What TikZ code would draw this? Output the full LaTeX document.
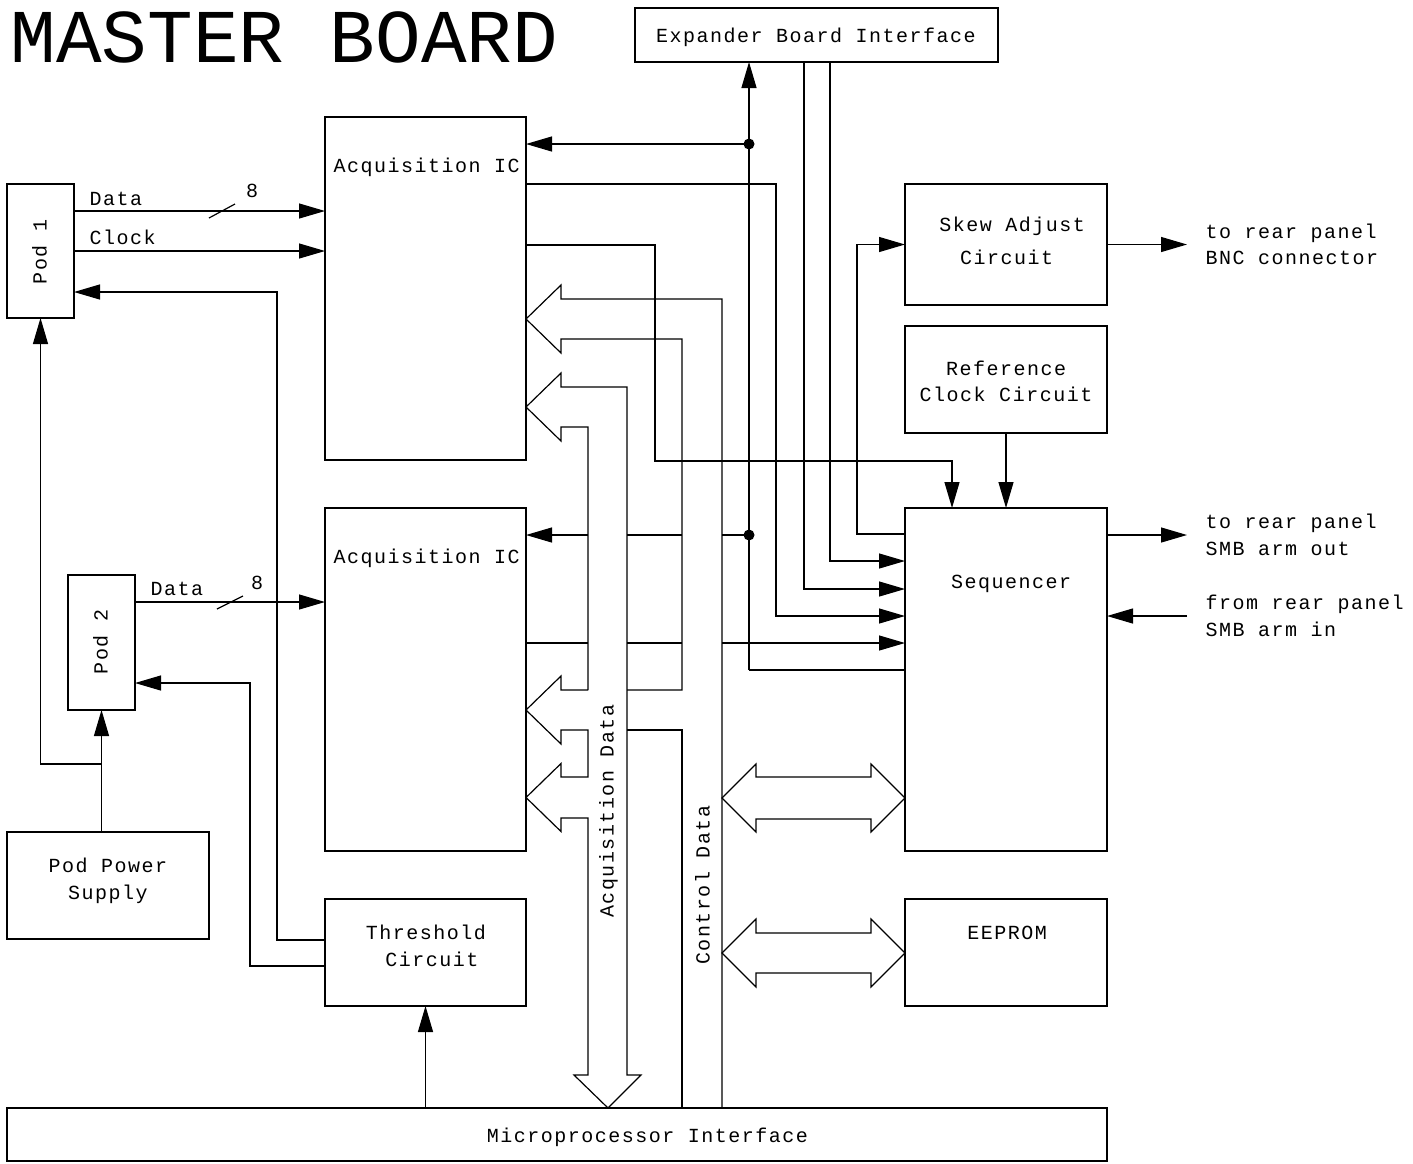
\documentclass[tikz,border=0pt]{standalone}
\usepackage{fontspec}
\setmainfont{Liberation Mono}
\newfontfamily\lblfont[LetterSpace=7.5]{Liberation Mono}
\newfontfamily\ttlfont{Liberation Mono}
\usetikzlibrary{arrows.meta}
\begin{document}
\begin{tikzpicture}[x=1pt,y=-1pt,line width=1.2pt,
  box/.style={draw,inner sep=0pt,outer sep=0pt},
  txt/.style={font={\lblfont\fontsize{20}{24}\selectfont},inner sep=0pt,anchor=base},
  ltxt/.style={txt,anchor=base west},
  vtxt/.style={txt,rotate=90},
  arr/.style={-{Triangle[length=26pt,width=15pt]}}]
\useasboundingbox (0,0) rectangle (1413,1163);

% boxes
\node[box,minimum width=363,minimum height=54] (exp) at (816.5,35) {};
\node[box,minimum width=201,minimum height=343] (ic1) at (425.5,288.5) {};
\node[box,minimum width=201,minimum height=343] (ic2) at (425.5,679.5) {};
\node[box,minimum width=67,minimum height=134] (pod1) at (40.5,251) {};
\node[box,minimum width=67,minimum height=135] (pod2) at (101.5,642.5) {};
\node[box,minimum width=202,minimum height=107] (pps) at (108,885.5) {};
\node[box,minimum width=201,minimum height=107] (thr) at (425.5,952.5) {};
\node[box,minimum width=1100,minimum height=53] (mpi) at (557,1134.5) {};
\node[box,minimum width=202,minimum height=121] (skew) at (1006,244.5) {};
\node[box,minimum width=202,minimum height=107] (ref) at (1006,379.5) {};
\node[box,minimum width=202,minimum height=343] (seq) at (1006,679.5) {};
\node[box,minimum width=202,minimum height=107] (eep) at (1006,952.5) {};

% texts
\node[font={\ttlfont\fontsize{76}{80}\selectfont},inner sep=0pt,anchor=base west] (title) at (10,62) {MASTER BOARD};
\node[txt] (texp) at (816,42.5) {Expander Board Interface};
\node[ltxt] (tic1) at (333,172) {Acquisition IC};
\node[ltxt] (tic2) at (333,563) {Acquisition IC};
\node[vtxt] (tpod1) at (46.5,252) {Pod 1};
\node[vtxt] (tpod2) at (107.5,642) {Pod 2};
\node[txt] (tpps1) at (108,872.5) {Pod Power};
\node[txt] (tpps2) at (108,899.5) {Supply};
\node[txt] (tthr1) at (426,939.5) {Threshold};
\node[txt] (tthr2) at (432,966.5) {Circuit};
\node[txt] (tskew1) at (1012,231.5) {Skew Adjust};
\node[txt] (tskew2) at (1006.5,264.5) {Circuit};
\node[txt] (tref1) at (1006,375) {Reference};
\node[txt] (tref2) at (1006,401) {Clock Circuit};
\node[txt] (tseq) at (1011,588.5) {Sequencer};
\node[txt] (teep) at (1007,939.5) {EEPROM};
\node[txt] (tmpi) at (647.5,1142.5) {Microprocessor Interface};
\node[ltxt] (to1a) at (1205,238.5) {to rear panel};
\node[ltxt] (to1b) at (1205,264.5) {BNC connector};
\node[ltxt] (to2a) at (1205,528.5) {to rear panel};
\node[ltxt] (to2b) at (1205,555.5) {SMB arm out};
\node[ltxt] (ti3a) at (1205,609.5) {from rear panel};
\node[ltxt] (ti3b) at (1205,636.5) {SMB arm in};
\node[ltxt] (td1) at (89,205.5) {Data};
\node[ltxt] (tc1) at (89,244.5) {Clock};
\node[ltxt] (td2) at (150,595.5) {Data};
\node[txt] (t8a) at (252,197.5) {8};
\node[txt] (t8b) at (257,589.5) {8};
\node[vtxt] (tacq) at (613.5,811) {Acquisition Data};
\node[vtxt] (tctl) at (709.5,885) {Control Data};

% coordinates
\coordinate (dA) at (749,144);
\coordinate (dB) at (749,535);
\coordinate (cBot) at (749,670);
\coordinate (o1) at (1187,244.5);
\coordinate (o2) at (1187,535);
\coordinate (i3) at (1187,616);
\coordinate (j1) at (101.5,764);

% control line to expander
\draw[arr] (cBot) -- (exp.south -| cBot);
\draw (cBot) -- (seq.west |- cBot);
\draw[arr] (dA) -- (ic1.east |- dA);
\draw[arr] (588,535) -- (ic2.east |- dB);
\draw (627,535) -- (682,535);
\draw (722,535) -- (dB);
\fill (dA) circle (5.5);
\fill (dB) circle (5.5);

% IC1 outputs
\draw[arr] (ic1.east |- 0,184) -- (776,184) |- (seq.west |- 0,616);
\draw[arr] (ic1.east |- 0,245) -- (655,245) -- (655,461) -| (seq.north -| 952,0);
\draw[arr] (ref.south) -- (seq.north);
\draw[arr] (seq.west |- 0,534) -- (857,534) |- (skew.west);
\draw[arr] (exp.south -| 804,0) |- (seq.west |- 0,589);
\draw[arr] (exp.south -| 830,0) |- (seq.west |- 0,561);

% IC2 output with gaps
\draw (ic2.east |- 0,643) -- (588,643);
\draw (627,643) -- (682,643);
\draw[arr] (722,643) -- (seq.west |- 0,643);

% right side
\draw[arr] (skew.east) -- (o1);
\draw[arr] (seq.east |- o2) -- (o2);
\draw[arr] (i3) -- (seq.east |- i3);

% pods
\draw[arr] (pod1.east |- 0,211) -- (ic1.west |- 0,211);
\draw[arr] (pod1.east |- 0,251) -- (ic1.west |- 0,251);
\draw[arr] (thr.west |- 0,940) -| (277,292) -- (pod1.east |- 0,292);
\draw[arr] (thr.west |- 0,966) -| (250,683) -- (pod2.east |- 0,683);
\draw[arr] (pod2.east |- 0,602) -- (ic2.west |- 0,602);
\draw[arr] (pps.north -| pod2.south) -- (pod2.south);
\draw[arr] (j1) -| (pod1.south);
\draw[arr] (mpi.north -| thr.south) -- (thr.south);
\draw (209,218) -- (235,204);
\draw (217,609) -- (243,596);

% buses
\draw (722,1108) -- (722,299) -- (561,299) -- (561,285) -- (526,319) -- (561,353) -- (561,339) -- (682,339) -- (682,690) -- (627,690);
\draw (588,690) -- (561,690) -- (561,676) -- (526,710) -- (561,744) -- (561,730) -- (588,730) -- (588,777) -- (561,777) -- (561,763.5) -- (526,797.5) -- (561,831.5) -- (561,818) -- (588,818) -- (588,1075) -- (574,1075) -- (608,1108) -- (641,1075) -- (627,1075) -- (627,387) -- (561,387) -- (561,373) -- (526,407) -- (561,441) -- (561,427) -- (588,427) -- (588,690);
\draw (627,730) -- (682,730) -- (682,1108);

% double arrows
\draw (722,798) -- (756,764) -- (756,777) -- (871,777) -- (871,764) -- (905,798) -- (871,832) -- (871,819) -- (756,819) -- (756,832) -- cycle;
\draw (722,953) -- (756,919) -- (756,933) -- (871,933) -- (871,919) -- (905,953) -- (871,987) -- (871,973) -- (756,973) -- (756,987) -- cycle;
\end{tikzpicture}
\end{document}
